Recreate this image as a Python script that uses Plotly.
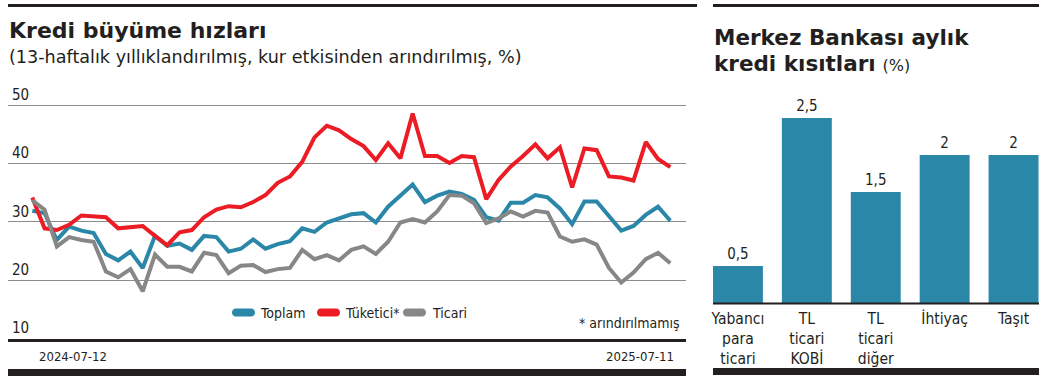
import plotly.graph_objects as go
import pandas as pd

W, H = 1048, 377

# ---------------- data ----------------
start_date = "2024-07-12"
n_weeks = 53
toplam = [31.9, 31.5, 26.9, 29.2, 28.5, 28.1, 24.5, 23.4, 24.9, 22.1, 27.6, 25.9, 26.3, 25.2,
          27.6, 27.4, 24.9, 25.4, 27.0, 25.4, 26.2, 26.7, 28.9, 28.3, 29.9, 30.6, 31.3, 31.5,
          29.9, 32.6, 34.6, 36.4, 33.4, 34.5, 35.2, 34.8, 33.8, 30.8, 30.2, 33.3, 33.3, 34.6,
          34.2, 32.3, 29.6, 33.5, 33.5, 31.0, 28.5, 29.3, 31.2, 32.6, 30.2]
tuketici = [34.2, 28.9, 28.6, 29.5, 31.1, 30.9, 30.8, 28.9, 29.1, 29.3, 27.6, 26.0, 28.2, 28.6,
            30.8, 32.1, 32.7, 32.5, 33.4, 34.6, 36.7, 37.8, 40.3, 44.5, 46.5, 45.7, 44.2, 43.0,
            40.6, 43.5, 40.9, 48.6, 41.3, 41.3, 40.1, 41.3, 41.1, 33.9, 37.2, 39.5, 41.3, 43.3,
            40.9, 42.8, 35.9, 42.6, 42.3, 37.8, 37.6, 37.1, 43.7, 40.8, 39.4]
ticari = [33.7, 32.1, 25.8, 27.4, 26.9, 26.6, 21.5, 20.5, 21.9, 18.1, 24.4, 22.3, 22.3, 21.5,
          24.7, 24.3, 21.2, 22.5, 22.6, 21.4, 21.9, 22.1, 25.2, 23.6, 24.3, 23.4, 25.2, 25.8,
          24.5, 26.6, 29.9, 30.5, 29.9, 31.8, 34.6, 34.5, 33.2, 29.8, 30.6, 31.8, 30.9, 31.9,
          31.6, 27.5, 26.6, 27.0, 26.1, 22.1, 19.6, 21.3, 23.6, 24.7, 22.9]
series_names = ["Toplam", "Tüketici*", "Ticari"]
y_ticks = [10, 20, 30, 40, 50]

bar_categories = ["Yabancı<br>para<br>ticari", "TL<br>ticari<br>KOBİ", "TL<br>ticari<br>diğer",
                  "İhtiyaç", "Taşıt"]
bar_values = [0.5, 2.5, 1.5, 2.0, 2.0]

# ---------------- style ----------------
BLUE = "#2a87a8"
RED = "#ec1c24"
GRAY = "#878787"
INK = "#231f20"
COND = "Liberation Sans Narrow, DejaVu Sans Condensed, Roboto, sans-serif"
BOLD = "DejaVu Sans, sans-serif"
REG = "DejaVu Sans, sans-serif"


def px(x):
    return x / W


def py(y):
    return 1 - y / H


dates = pd.date_range(start_date, periods=n_weeks, freq="7D")
days_span = (dates[-1] - dates[0]).days
ppd = (670.3 - 32.3) / days_span
x_start = dates[0] - pd.Timedelta(days=(32.3 - 8) / ppd)
x_end = dates[0] + pd.Timedelta(days=(686 - 32.3) / ppd)

# y axis: 10 at 338.5px, 50 at 105.3px; extend range upward so the top label shows
y_unit = (338.5 - 105.3) / 40
y_top_val = 56
y_top_px = 338.5 - (y_top_val - 10) * y_unit

fig = go.Figure()
for name, vals, col in zip(series_names, [toplam, tuketici, ticari], [BLUE, RED, GRAY]):
    fig.add_trace(go.Scatter(x=dates, y=vals, name=name, mode="lines",
                             line=dict(color=col, width=4), showlegend=False,
                             xaxis="x", yaxis="y", hoverinfo="skip"))

bar_text = [f"{v:g}".replace(".", ",") for v in bar_values]
fig.add_trace(go.Bar(x=bar_categories, y=bar_values, text=bar_text, textposition="outside",
                     marker=dict(color=BLUE, line=dict(width=0)), cliponaxis=False,
                     textfont=dict(family=COND, size=15, color=INK),
                     xaxis="x2", yaxis="y2", showlegend=False, hoverinfo="skip"))

shapes = []
# frame lines
shapes.append(dict(type="line", xref="paper", yref="paper", x0=px(8), x1=px(697), y0=py(5.5), y1=py(5.5),
                   line=dict(color=INK, width=3)))
shapes.append(dict(type="line", xref="paper", yref="paper", x0=px(713), x1=px(1039), y0=py(5.5), y1=py(5.5),
                   line=dict(color=INK, width=3)))
shapes.append(dict(type="rect", xref="paper", yref="paper", x0=px(8), x1=px(686), y0=py(376), y1=py(369),
                   fillcolor=INK, line=dict(width=0)))
shapes.append(dict(type="rect", xref="paper", yref="paper", x0=px(713), x1=px(1039), y0=py(375), y1=py(368),
                   fillcolor=INK, line=dict(width=0)))
shapes.append(dict(type="line", xref="paper", yref="paper", x0=px(713), x1=px(1039), y0=py(303.5), y1=py(303.5),
                   line=dict(color=INK, width=2)))


def pill(x0, x1, yc, h, color):
    r = h / 2
    k = 1.33 * r
    pts = lambda x, y: f"{px(x):.5f},{py(y):.5f}"
    path = (f"M {pts(x0 + r, yc - r)} L {pts(x1 - r, yc - r)} "
            f"C {pts(x1 - r + k, yc - r)} {pts(x1 - r + k, yc + r)} {pts(x1 - r, yc + r)} "
            f"L {pts(x0 + r, yc + r)} "
            f"C {pts(x0 + r - k, yc + r)} {pts(x0 + r - k, yc - r)} {pts(x0 + r, yc - r)} Z")
    return dict(type="path", xref="paper", yref="paper", path=path, fillcolor=color, line=dict(width=0))


legend_x = [(232, 255, 258), (317, 340, 343), (403, 426, 430)]
for (a, b, t), col, name in zip(legend_x, [BLUE, RED, GRAY], series_names):
    shapes.append(pill(a, b, 312.5, 8, col))

ann = []
ann.append(dict(text="<b>Kredi büyüme hızları</b>", x=px(7), y=py(30), xanchor="left", yanchor="middle",
                font=dict(family=BOLD, size=22, color=INK)))
ann.append(dict(text="(13-haftalık yıllıklandırılmış, kur etkisinden arındırılmış, %)", x=px(7), y=py(57),
                xanchor="left", yanchor="middle", font=dict(family=REG, size=17.6, color=INK)))
ann.append(dict(text="<b>Merkez Bankası aylık</b>", x=px(712), y=py(37), xanchor="left", yanchor="middle",
                font=dict(family=BOLD, size=21.5, color=INK)))
ann.append(dict(text="<b>kredi kısıtları</b> <span style='font-size:16px'>(%)</span>", x=px(712), y=py(64),
                xanchor="left", yanchor="middle", font=dict(family=BOLD, size=21.5, color=INK)))
for (a, b, t), name in zip(legend_x, series_names):
    ann.append(dict(text=name, x=px(t), y=py(313), xanchor="left", yanchor="middle",
                    font=dict(family=COND, size=14, color=INK)))
ann.append(dict(text="* arındırılmamış", x=px(682), y=py(323), xanchor="right", yanchor="middle",
                font=dict(family=COND, size=14, color=INK)))
ann.append(dict(text=dates[0].strftime("%Y-%m-%d"), x=px(37), y=py(356), xanchor="left", yanchor="middle",
                font=dict(family=COND, size=13, color=INK)))
ann.append(dict(text=dates[-1].strftime("%Y-%m-%d"), x=px(676), y=py(356), xanchor="right", yanchor="middle",
                font=dict(family=COND, size=13, color=INK)))
for a in ann:
    a.update(xref="paper", yref="paper", showarrow=False)

fig.update_layout(
    width=W, height=H, autosize=False,
    margin=dict(l=0, r=0, t=0, b=0),
    paper_bgcolor="white", plot_bgcolor="white",
    shapes=shapes, annotations=ann,
    bargap=1 - 50 / 69,
    xaxis=dict(domain=[px(8), px(686)], range=[x_start, x_end], showgrid=False, showticklabels=False,
               ticks="", showline=True, linecolor=INK, linewidth=3, zeroline=False, anchor="y"),
    yaxis=dict(domain=[py(338.5), py(y_top_px)], range=[10, y_top_val], tickvals=y_ticks,
               ticklabelposition="inside top", ticklabelstandoff=1,
               showgrid=True, gridcolor="#8c8c8c", gridwidth=1,
               zeroline=False, showline=False, ticks="", anchor="x",
               tickfont=dict(family=COND, size=15, color=INK)),
    xaxis2=dict(domain=[px(703.5), 1], range=[-0.5, 4.5], type="category", showgrid=False,
                showline=False, ticks="", zeroline=False, anchor="y2", ticklabelstandoff=4,
                tickfont=dict(family=COND, size=15.5, color=INK)),
    yaxis2=dict(domain=[py(303), py(118)], range=[0, 2.5], visible=False, anchor="x2"),
)

fig.write_html("out.html", config={"displayModeBar": False},
               post_script="document.body.style.margin='0';")
